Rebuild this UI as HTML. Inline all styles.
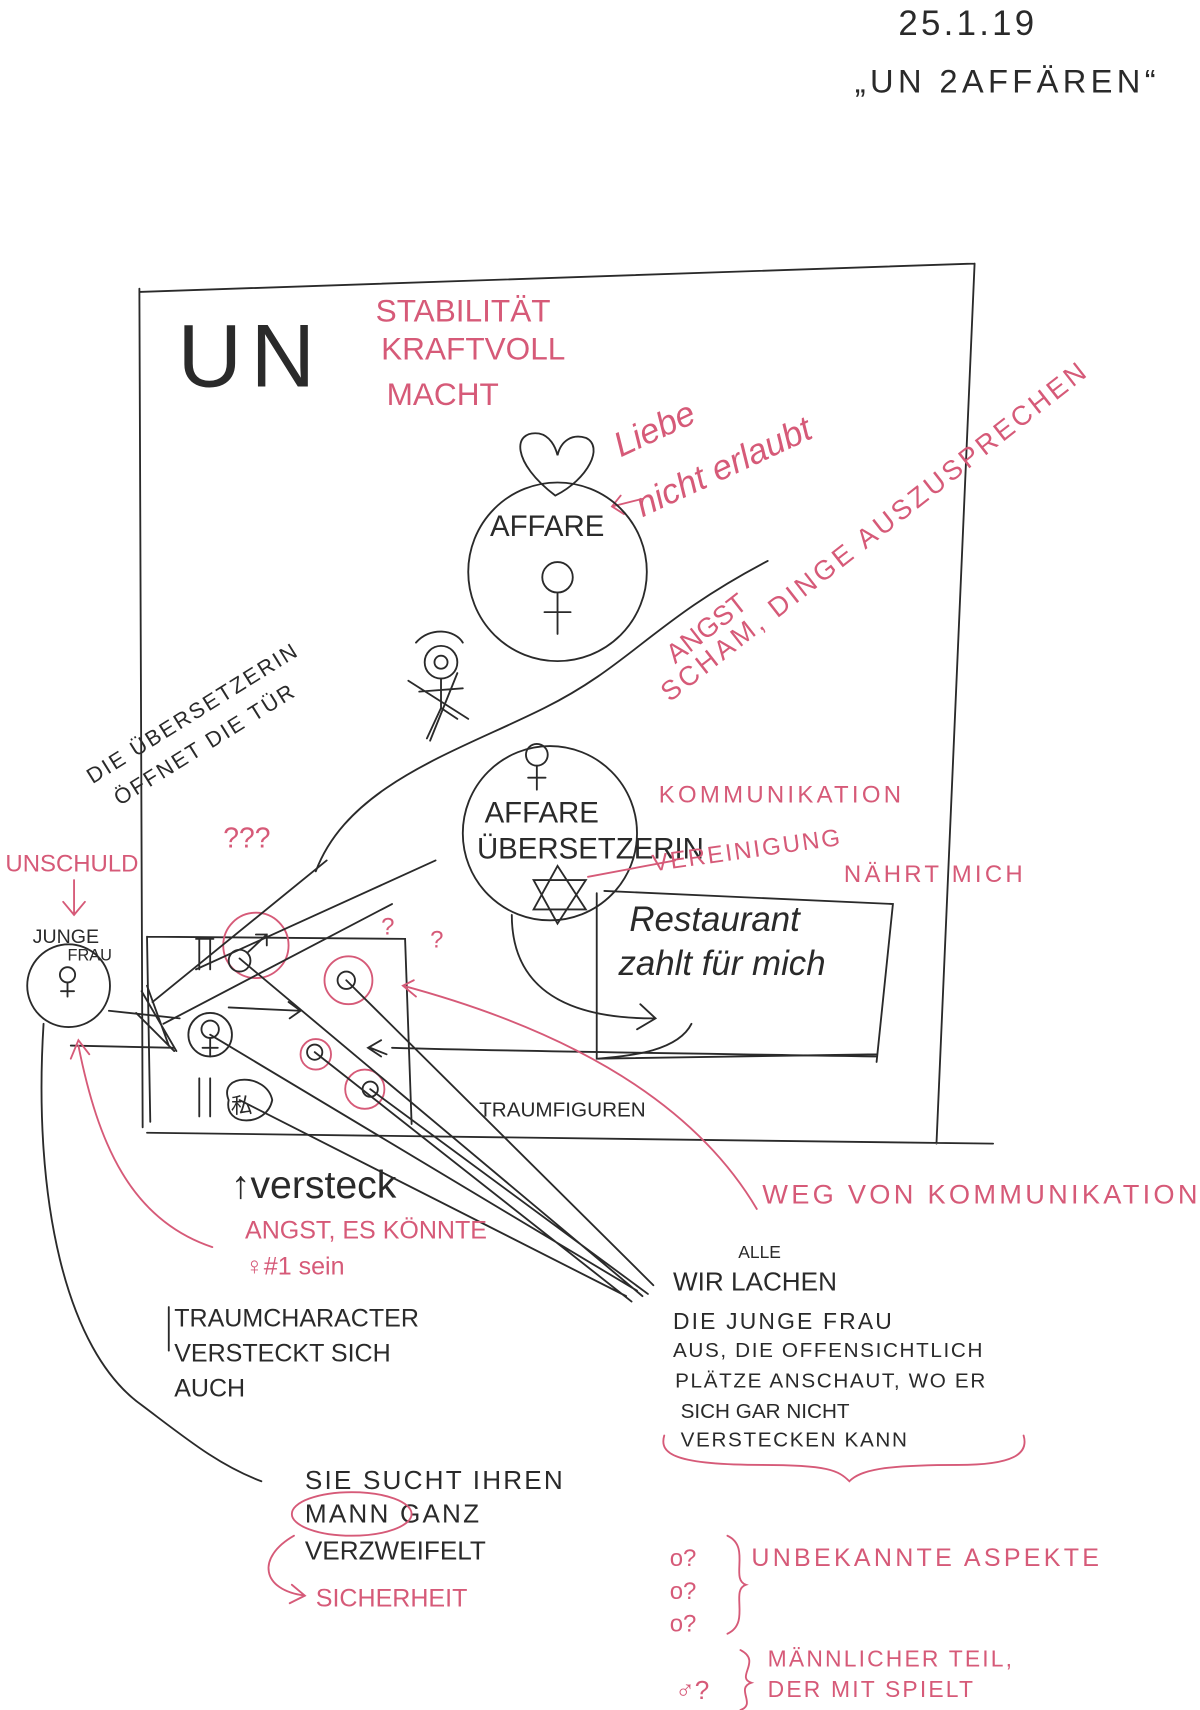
<!DOCTYPE html>
<html><head><meta charset="utf-8"><style>
html,body{margin:0;padding:0;background:#fff;}
svg{display:block;}
text{font-family:"Liberation Sans",sans-serif;}
.b{fill:#2a2a2a;}
.r{fill:#d65a78;}
.k{stroke:#2a2a2a;fill:none;stroke-width:1.7;stroke-linecap:round;}
.p{stroke:#d65a78;fill:none;stroke-width:1.7;stroke-linecap:round;}
</style></head><body>
<svg width="1200" height="1710" viewBox="0 0 1102 1570" preserveAspectRatio="none" xmlns="http://www.w3.org/2000/svg">
<rect width="1102" height="1570" fill="#fff"/>
<text x="825" y="32" font-size="32" class="b" letter-spacing="3">25.1.19</text>
<text x="785" y="85" font-size="30" class="b" letter-spacing="4">„UN 2AFFÄREN“</text>
<path class="k" d="M128 268 L895 242 M128 265 L131 1035 M895 242 L860 1050 M135 1040 L912 1050"/>
<text x="163" y="355" font-size="82" class="b" letter-spacing="8">UN</text>
<text x="345" y="295" font-size="29" class="r">STABILITÄT</text>
<text x="350" y="330" font-size="29" class="r">KRAFTVOLL</text>
<text x="355" y="372" font-size="29" class="r">MACHT</text>
<path class="k" d="M510 455 C470 425 470 395 495 398 C505 400 510 410 512 418 C515 405 525 398 538 402 C555 410 540 440 510 455Z"/>
<text x="570" y="420" font-size="32" class="r" font-family="Liberation Serif" font-style="italic" transform="rotate(-25 570 420)">Liebe</text>
<text x="590" y="475" font-size="32" class="r" font-family="Liberation Serif" font-style="italic" transform="rotate(-25 590 475)">nicht erlaubt</text>
<path class="p" d="M590 458 L562 465 M570 455 L562 465 L573 472"/>
<circle cx="512" cy="525" r="82" class="k"/>
<text x="450" y="492" font-size="27" class="b">AFFARE</text>
<circle cx="512" cy="530" r="14" class="k"/><path class="k" d="M512 544 L512 582 M500 562 L524 562"/>
<path class="k" d="M290 800 C320 720 420 690 500 650 C580 610 600 570 705 515"/>
<text x="620" y="610" font-size="25" class="r" transform="rotate(-38 620 610)">ANGST</text>
<text x="615" y="645" font-size="25" class="r" letter-spacing="3" transform="rotate(-38 615 645)">SCHAM, DINGE AUSZUSPRECHEN</text>
<circle cx="405" cy="608" r="15" class="k"/><circle cx="405" cy="608" r="6" class="k"/>
<path class="k" d="M382 590 C395 575 418 578 425 590 M405 623 L405 650 M385 635 L425 632 M405 650 L392 678 M405 650 L420 660 M375 625 L430 660 M420 618 L395 680"/>
<text x="85" y="720" font-size="20" class="b" letter-spacing="2" transform="rotate(-32 85 720)">DIE ÜBERSETZERIN</text>
<text x="110" y="740" font-size="20" class="b" letter-spacing="2" transform="rotate(-32 110 740)">ÖFFNET DIE TÜR</text>
<circle cx="505" cy="765" r="80" class="k"/>
<circle cx="493" cy="693" r="10" class="k"/><path class="k" d="M493 703 L493 725 M485 714 L501 714"/>
<text x="445" y="755" font-size="27" class="b">AFFARE</text>
<text x="438" y="788" font-size="27" class="b">ÜBERSETZERIN</text>
<path class="k" d="M512 795 L490 835 L538 835Z M512 848 L490 808 L538 808Z"/>
<text x="605" y="737" font-size="22" class="r" letter-spacing="3">KOMMUNIKATION</text>
<text x="600" y="800" font-size="22" class="r" letter-spacing="2" transform="rotate(-8 600 800)">VEREINIGUNG</text>
<text x="775" y="810" font-size="22" class="r" letter-spacing="3">NÄHRT MICH</text>
<path class="p" d="M540 805 L620 790"/>
<path class="k" d="M555 818 L820 830 L805 975 M548 820 L548 972 L805 968"/>
<text x="578" y="855" font-size="32" class="b" font-family="Liberation Serif" font-style="italic">Restaurant</text>
<text x="568" y="895" font-size="32" class="b" font-family="Liberation Serif" font-style="italic">zahlt für mich</text>
<path class="k" d="M470 840 C470 920 540 935 600 935 M588 922 L602 935 L585 945"/>
<path class="k" d="M635 940 C620 970 560 970 550 972"/>
<path class="k" d="M135 860 L372 862 L378 1032 M135 860 L138 1030"/>
<text x="205" y="778" font-size="26" class="r">???</text>
<text x="350" y="858" font-size="22" class="r">?</text>
<text x="395" y="870" font-size="22" class="r">?</text>
<circle cx="235" cy="868" r="30" class="p"/>
<circle cx="220" cy="882" r="10" class="k"/><path class="k" d="M228 874 L245 858 M235 858 L245 858 L245 868"/>
<path class="k" d="M183 862 L183 890 M193 862 L193 890 M180 862 L196 862"/>
<circle cx="193" cy="950" r="20" class="k"/><circle cx="193" cy="945" r="8" class="k"/><path class="k" d="M193 953 L193 970 M186 962 L200 962"/>
<circle cx="320" cy="900" r="22" class="p"/><circle cx="318" cy="900" r="8" class="k"/>
<circle cx="290" cy="968" r="14" class="p"/><circle cx="289" cy="966" r="7" class="k"/>
<circle cx="335" cy="1000" r="18" class="p"/><circle cx="340" cy="1000" r="7" class="k"/>
<path class="k" d="M183 990 L183 1025 M193 990 L193 1025 M210 1010 C200 985 245 985 250 1010 C245 1035 205 1035 210 1010"/>
<text x="212" y="1022" font-size="20" class="b">私</text>
<path class="k" d="M210 925 L275 928 M265 920 L276 928 L266 935 M355 968 L340 962 M350 955 L338 962 L350 970"/>
<path class="k" d="M360 962 C500 966 700 968 805 970"/>
<path class="k" d="M300 790 L140 920 M400 790 L180 890 M360 830 L150 940"/>
<path class="k" d="M130 910 L162 965 M135 905 L155 960 M125 930 L160 965"/>
<path class="k" d="M220 880 L590 1190 M193 950 L585 1185 M318 900 L600 1180 M289 966 L580 1195 M340 1000 L595 1188 M220 1010 L575 1190"/>
<text x="440" y="1025" font-size="19" class="b">TRAUMFIGUREN</text>
<text x="5" y="800" font-size="22" class="r">UNSCHULD</text>
<path class="p" d="M68 808 L68 838 M58 828 L68 840 L78 828"/>
<text x="30" y="866" font-size="18" class="b">JUNGE</text>
<text x="62" y="882" font-size="15" class="b">FRAU</text>
<circle cx="63" cy="905" r="38" class="k"/>
<circle cx="62" cy="895" r="7" class="k"/><path class="k" d="M62 902 L62 915 M56 910 L68 910"/>
<path class="k" d="M100 928 L165 935 M65 960 L160 962"/>
<path class="p" d="M72 960 C90 1050 120 1120 195 1145 M65 972 L72 955 L82 968"/>
<path class="k" d="M40 940 C30 1100 60 1240 130 1290 C170 1320 200 1345 240 1360"/>
<path class="p" d="M370 905 C500 940 630 1000 695 1110 M380 900 L370 905 L382 915"/>
<text x="700" y="1105" font-size="25" class="r" letter-spacing="3">WEG VON KOMMUNIKATION</text>
<text x="212" y="1100" font-size="36" class="b" font-family="Liberation Serif">↑versteck</text>
<text x="225" y="1137" font-size="23" class="r">ANGST, ES KÖNNTE</text>
<text x="225" y="1170" font-size="23" class="r">♀#1 sein</text>
<path class="k" d="M155 1200 L155 1240"/>
<text x="160" y="1218" font-size="23" class="b">TRAUMCHARACTER</text>
<text x="160" y="1250" font-size="23" class="b">VERSTECKT SICH</text>
<text x="160" y="1282" font-size="23" class="b">AUCH</text>
<text x="678" y="1155" font-size="16" class="b">ALLE</text>
<text x="618" y="1185" font-size="24" class="b">WIR LACHEN</text>
<text x="618" y="1220" font-size="21" class="b" letter-spacing="2">DIE JUNGE FRAU</text>
<text x="618" y="1246" font-size="19" class="b" letter-spacing="1.5">AUS, DIE OFFENSICHTLICH</text>
<text x="620" y="1274" font-size="19" class="b" letter-spacing="1.5">PLÄTZE ANSCHAUT, WO ER</text>
<text x="625" y="1302" font-size="19" class="b">SICH GAR NICHT</text>
<text x="625" y="1328" font-size="19" class="b" letter-spacing="1.5">VERSTECKEN KANN</text>
<path class="p" d="M610 1318 C605 1335 620 1345 700 1345 C760 1345 770 1350 780 1360 C790 1350 810 1345 880 1345 C930 1345 945 1335 940 1318"/>
<text x="280" y="1367" font-size="24" class="b" letter-spacing="2">SIE SUCHT IHREN</text>
<text x="280" y="1398" font-size="24" class="b" letter-spacing="2">MANN GANZ</text>
<text x="280" y="1432" font-size="24" class="b">VERZWEIFELT</text>
<ellipse cx="323" cy="1390" rx="55" ry="20" class="p"/>
<text x="290" y="1475" font-size="23" class="r">SICHERHEIT</text>
<path class="p" d="M270 1410 C235 1430 240 1460 280 1465 M268 1455 L280 1465 L266 1472"/>
<text x="615" y="1438" font-size="22" class="r">o?</text>
<text x="615" y="1468" font-size="22" class="r">o?</text>
<text x="615" y="1498" font-size="22" class="r">o?</text>
<path class="p" d="M668 1410 C690 1420 670 1450 685 1455 C670 1460 690 1490 668 1500"/>
<text x="690" y="1438" font-size="23" class="r" letter-spacing="3">UNBEKANNTE ASPEKTE</text>
<text x="620" y="1560" font-size="24" class="r">♂?</text>
<path class="p" d="M680 1515 C700 1525 675 1540 690 1545 C675 1550 695 1565 680 1570"/>
<text x="705" y="1530" font-size="21" class="r" letter-spacing="2">MÄNNLICHER TEIL,</text>
<text x="705" y="1558" font-size="21" class="r" letter-spacing="2">DER MIT SPIELT</text>
</svg>
</body></html>
